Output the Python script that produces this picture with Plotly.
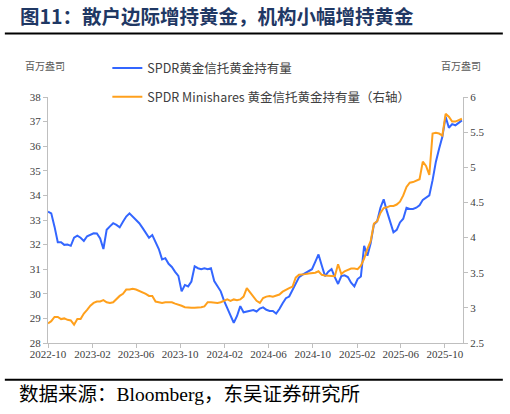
import pandas as pd
import plotly.graph_objects as go

# x grid: one reading every 9 days from 2022-10-01
start_date = "2022-10-01"
step = "9D"

# SPDR 黄金信托持有量, 百万盎司 (left axis)
spdr = [
    33.34, 33.27, 32.73, 32.10, 32.10, 31.99, 32.00, 31.95, 32.28, 32.36,
    32.28, 32.15, 32.34, 32.40, 32.46, 32.45, 32.25, 31.82, 32.60, 32.74,
    32.87, 32.80, 32.70, 32.93, 33.14, 33.27, 33.14, 33.00, 32.87, 32.68,
    32.48, 32.28, 32.39, 32.10, 31.82, 31.40, 31.45, 31.22, 31.09, 30.89,
    30.73, 30.10, 30.36, 30.30, 30.50, 31.12, 31.04, 31.00, 31.04, 31.00,
    31.04, 30.52, 30.32, 30.10, 29.72, 29.42, 29.15, 28.82, 29.10, 29.50,
    29.25, 29.28, 29.30, 29.34, 29.28, 29.40, 29.45, 29.35, 29.30, 29.30,
    29.20, 29.38, 29.62, 29.82, 29.89, 30.14, 30.40, 30.67, 30.77, 30.85,
    30.92, 31.00, 31.30, 31.60, 31.15, 30.72, 30.90, 31.00, 30.68, 30.40,
    30.72, 30.75, 30.68, 30.45, 30.30, 30.60, 30.70, 31.95, 31.55, 32.05,
    32.82, 32.95, 33.50, 33.84, 33.35, 32.95, 32.50, 32.60, 32.90, 33.05,
    33.50, 33.45, 33.45, 33.50, 33.60, 33.82, 33.90, 34.00, 34.62, 35.36,
    35.90, 36.38, 37.20, 36.75, 36.90, 36.85, 36.95, 37.05,
]

# SPDR Minishares 黄金信托持有量, 百万盎司 (right axis)
gldm = [
    2.78, 2.81, 2.87, 2.87, 2.84, 2.85, 2.83, 2.82, 2.76, 2.84,
    2.84, 2.92, 2.97, 3.03, 3.07, 3.09, 3.09, 3.11, 3.08, 3.07,
    3.08, 3.13, 3.17, 3.20, 3.26, 3.26, 3.27, 3.26, 3.24, 3.23,
    3.20, 3.17, 3.17, 3.09, 3.08, 3.07, 3.08, 3.08, 3.08, 3.06,
    3.05, 3.03, 3.01, 3.00, 3.00, 3.00, 3.00, 3.01, 3.02, 3.08,
    3.08, 3.07, 3.07, 3.08, 3.10, 3.12, 3.10, 3.12, 3.11, 3.12,
    3.16, 3.28, 3.22, 3.16, 3.10, 3.07, 3.14, 3.16, 3.17, 3.16,
    3.17, 3.19, 3.23, 3.26, 3.28, 3.30, 3.43, 3.47, 3.47, 3.48,
    3.49, 3.49, 3.50, 3.52, 3.47, 3.46, 3.46, 3.46, 3.45, 3.62,
    3.48, 3.52, 3.54, 3.56, 3.56, 3.55, 3.60, 3.70, 3.84, 3.95,
    4.20, 4.23, 4.35, 4.42, 4.43, 4.45, 4.45, 4.47, 4.51, 4.60,
    4.72, 4.78, 4.79, 4.81, 4.83, 5.08, 5.02, 4.89, 5.48, 5.49,
    5.48, 5.45, 5.76, 5.72, 5.65, 5.65, 5.67, 5.69,
]

dates = pd.date_range(start_date, periods=len(spdr), freq=step)

title = "图11：散户边际增持黄金，机构小幅增持黄金"
source = "数据来源：Bloomberg，东吴证券研究所"
unit = "百万盎司"
name_spdr = "SPDR黄金信托黄金持有量"
name_gldm = "SPDR Minishares 黄金信托黄金持有量（右轴）"

sans = "Noto Sans CJK SC, Noto Sans, sans-serif"
serif = "Liberation Serif, Noto Sans CJK SC, serif"

fig = go.Figure()
fig.add_trace(go.Scatter(x=dates, y=spdr, name=name_spdr, mode="lines",
                         line=dict(color="#3366ff", width=2), legend="legend"))
fig.add_trace(go.Scatter(x=dates, y=gldm, name=name_gldm, mode="lines", yaxis="y2",
                         line=dict(color="#ffa01c", width=2), legend="legend2"))

axis_common = dict(showgrid=False, zeroline=False, showline=True, linecolor="#bfbfbf",
                   linewidth=1, ticks="outside", ticklen=4, tickcolor="#bfbfbf",
                   tickfont=dict(family=serif, size=11, color="#404040"))

fig.update_layout(
    width=510, height=414,
    margin=dict(l=48, r=47, t=97, b=71),
    paper_bgcolor="white", plot_bgcolor="white",
    xaxis=dict(range=["2022-10-01", "2025-11-20"], tick0="2022-10-01", dtick="M4",
               tickformat="%Y-%m", ticklabelstandoff=-3, **axis_common),
    yaxis=dict(range=[28, 38], dtick=1, **axis_common),
    yaxis2=dict(range=[2.5, 6], dtick=0.5, overlaying="y", side="right", **axis_common),
    legend=dict(x=0.143, y=1.116, xanchor="left", yanchor="middle", bgcolor="rgba(0,0,0,0)",
                font=dict(family=sans, size=12.5, color="#404040")),
    legend2=dict(x=0.143, y=1.0, xanchor="left", yanchor="middle", bgcolor="rgba(0,0,0,0)",
                 font=dict(family=sans, size=12.5, color="#404040")),
    showlegend=True,
)

# title, units and source
fig.add_annotation(text=f"<b>{title}</b>", xref="paper", yref="paper", x=-0.073, y=1.331,
                   xanchor="left", yanchor="middle", showarrow=False,
                   font=dict(family=sans, size=19.5, color="#1f3864"))
fig.add_annotation(text=unit, xref="paper", yref="paper", x=-0.008, y=1.128,
                   xanchor="center", yanchor="middle", showarrow=False,
                   font=dict(family=sans, size=10, color="#595959"))
fig.add_annotation(text=unit, xref="paper", yref="paper", x=0.995, y=1.128,
                   xanchor="center", yanchor="middle", showarrow=False,
                   font=dict(family=sans, size=10, color="#595959"))
fig.add_annotation(text=source, xref="paper", yref="paper", x=-0.075, y=-0.21,
                   xanchor="left", yanchor="middle", showarrow=False,
                   font=dict(family=serif, size=19.5, color="#000000"))

# rules under the title and above the source
fig.add_shape(type="line", xref="paper", yref="paper", x0=-0.104, x1=1.096, y0=1.258, y1=1.258,
              line=dict(color="black", width=2))
fig.add_shape(type="line", xref="paper", yref="paper", x0=-0.104, x1=1.096, y0=-0.149, y1=-0.149,
              line=dict(color="black", width=2))

fig.write_html("out.html", config={"displayModeBar": False},
               post_script="document.body.style.margin='0';")
